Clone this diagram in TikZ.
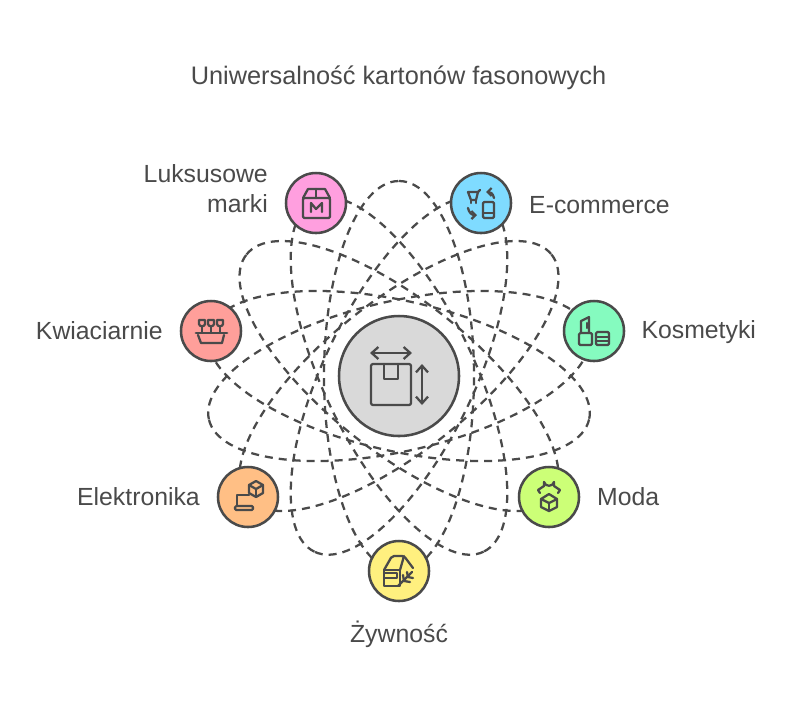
\documentclass[tikz,border=0pt]{standalone}
\usepackage{fontspec}
\setmainfont{Liberation Sans}
\usetikzlibrary{arrows.meta, positioning}
\definecolor{ink}{HTML}{4A4A4A}
\definecolor{hubgray}{HTML}{D9D9D9}
\definecolor{luxpink}{HTML}{FF9FDF}
\definecolor{ecomblue}{HTML}{7FDBFF}
\definecolor{cosmgreen}{HTML}{85FBBF}
\definecolor{modalime}{HTML}{CCFF77}
\definecolor{foodyellow}{HTML}{FFF07F}
\definecolor{elecorange}{HTML}{FFBF85}
\definecolor{flowerred}{HTML}{FF9F9A}
\tikzset{
	orbit/.style={draw=ink, line width=1.7pt, dash pattern=on 6pt off 4.5pt},
	disc/.style={circle, draw=ink, line width=1.9pt, minimum size=45pt, inner sep=0pt},
	icon/.style={draw=ink, line width=1.7pt, line cap=round, line join=round},
	tag/.style={text=ink, font=\fontsize{18.6}{22.5}\selectfont, inner sep=0pt},
}
\begin{document}
\begin{tikzpicture}[x=0.75pt, y=-0.75pt]
	\def\Ra{195}
	\def\Rb{75}
	\useasboundingbox (0,0) rectangle (805,708);
	\coordinate (hub) at (399,376);

	\node[tag, font=\fontsize{19}{23}\selectfont] (title) at (398.5,77.5) {Uniwersalność kartonów fasonowych};

	% orbits
	\foreach \a in {90,141.43,192.86,244.29,295.71,347.14,398.57}
		\draw[orbit, shift={(hub)}, rotate=\a] (0,0) circle[x radius=\Ra, y radius=\Rb];

	% discs
	\node[disc, minimum size=90pt, fill=hubgray] (box) at (hub) {};
	\node[disc, fill=luxpink] (lux) at (316,203) {};
	\node[disc, fill=ecomblue] (ecom) at (481,203) {};
	\node[disc, fill=cosmgreen] (cosm) at (594,331) {};
	\node[disc, fill=modalime] (moda) at (549,497) {};
	\node[disc, fill=foodyellow] (food) at (399,571) {};
	\node[disc, fill=elecorange] (elec) at (248,497) {};
	\node[disc, fill=flowerred] (flower) at (211,331) {};

	% labels
	\node[tag, align=right, left=12.5pt of lux, yshift=10.5pt] (luxtag) {Luksusowe\\marki};
	\node[tag, right=12.5pt of ecom, yshift=-1.5pt] (ecomtag) {E-commerce};
	\node[tag, right=12pt of cosm, yshift=-1pt] (cosmtag) {Kosmetyki};
	\node[tag, right=12.5pt of moda] (modatag) {Moda};
	\node[tag, below=14pt of food] (foodtag) {Żywność};
	\node[tag, left=12.5pt of elec] (electag) {Elektronika};
	\node[tag, left=12.5pt of flower] (flowertag) {Kwiaciarnie};

	% icon of the box in the middle
	\begin{scope}[shift={(box)}]
		\draw[icon, rounded corners=1.5pt] (-28,-12) rectangle (12,29);
		\draw[icon] (-15,-12) -- (-15,3) -- (-1,3) -- (-1,-12);
		\draw[icon, {Straight Barb[length=5pt,width=9pt]}-{Straight Barb[length=5pt,width=9pt]}] (-29,-23) -- (13,-23);
		\draw[icon, {Straight Barb[length=5pt,width=9pt]}-{Straight Barb[length=5pt,width=9pt]}] (23,-12) -- (23,29);
	\end{scope}

	% luxury box
	\begin{scope}[shift={(lux)}]
		\draw[icon, rounded corners=1pt] (-13,-5) -- (-13,15) -- (14,15) -- (14,-5) -- cycle;
		\draw[icon] (-13,-5) -- (-8,-14) -- (9,-14) -- (14,-5);
		\draw[icon] (0,-14) -- (0,-5);
		\draw[icon] (-5,9) -- (-5,0) -- (0,6) -- (6,0) -- (6,9);
	\end{scope}

	% cart and phone
	\begin{scope}[shift={(ecom)}]
		\draw[icon] (-13,-11) -- (-3,-11) -- (-5,-3) -- (-10,-3) -- cycle;
		\draw[icon] (-3,-11) -- (-1,-13);
		\draw[icon] (-10,-3) -- (-10,0);
		\draw[icon] (-5,-3) -- (-5,0);
		\draw[icon, rounded corners=1pt] (2,-1) rectangle (13,15);
		\draw[icon] (2,10) -- (13,10);
		\draw[icon, -{Straight Barb[length=3pt,width=6pt]}] (13,-5) .. controls (12,-10) and (9,-11) .. (5,-11);
		\draw[icon, -{Straight Barb[length=3pt,width=6pt]}] (-13,5) .. controls (-12,10) and (-9,12) .. (-4,12);
	\end{scope}

	% lipstick and compact
	\begin{scope}[shift={(cosm)}]
		\draw[icon, rounded corners=1pt] (-15,2) rectangle (-2,14);
		\draw[icon] (-13,2) -- (-13,-10) -- (-5,-14) -- (-5,2);
		\draw[icon] (-7,-8) -- (-7,-3);
		\draw[icon, rounded corners=1pt] (2,1) rectangle (15,14);
		\draw[icon] (2,6) -- (15,6);
		\draw[icon] (2,10) -- (15,10);
	\end{scope}

	% top and box
	\begin{scope}[shift={(moda)}]
		\draw[icon] (0,-3) -- (8,2) -- (8,10) -- (0,14) -- (-8,10) -- (-8,2) -- cycle;
		\draw[icon] (-8,2) -- (0,6) -- (8,2);
		\draw[icon] (0,6) -- (0,14);
		\draw[icon] (-5,-15) .. controls (-4,-10) and (4,-10) .. (5,-15);
		\draw[icon] (-5,-15) -- (-5,-11) -- (-11,-7) -- (-9,-4);
		\draw[icon] (5,-15) -- (5,-11) -- (11,-7) -- (9,-4);
	\end{scope}

	% carton and wheat
	\begin{scope}[shift={(food)}]
		\draw[icon] (-15,-1) -- (-15,15) -- (1,15) -- (1,-1) -- cycle;
		\draw[icon, rounded corners=1.5pt] (-15,-1) -- (-7,-15) -- (5,-15) -- (14,-3);
		\draw[icon] (1,-1) -- (5,-15);
		\draw[icon] (-15,2) -- (-2,2) -- (-2,7) -- (-15,7);
		\draw[icon] (-1,15) -- (13,1);
		\draw[icon] (4,4) -- (5,10) -- (11,11);
		\draw[icon] (8,1) -- (9,6) -- (14,7);
	\end{scope}

	% laptop and cube
	\begin{scope}[shift={(elec)}]
		\draw[icon] (-11,9) -- (-11,-2) -- (1,-2);
		\draw[icon, rounded corners=1pt] (-13,9) rectangle (5,13);
		\draw[icon] (8,-16) -- (15,-12) -- (15,-4) -- (8,0) -- (1,-4) -- (1,-12) -- cycle;
		\draw[icon] (1,-12) -- (8,-8) -- (15,-12);
		\draw[icon] (8,-8) -- (8,0);
	\end{scope}

	% flower tray
	\begin{scope}[shift={(flower)}]
		\draw[icon, line width=2.2pt] (-15,2) -- (16,2);
		\draw[icon] (-13,4) -- (-10,12) -- (11,12) -- (13,4);
		\foreach \x in {-9,0,9} {
			\draw[icon] (\x,-4) -- (\x,1);
			\draw[icon] (\x-3,-11) -- (\x-3,-7) .. controls (\x-3,-4) and (\x+3,-4) .. (\x+3,-7) -- (\x+3,-11) -- cycle;
		}
	\end{scope}
\end{tikzpicture}
\end{document}
